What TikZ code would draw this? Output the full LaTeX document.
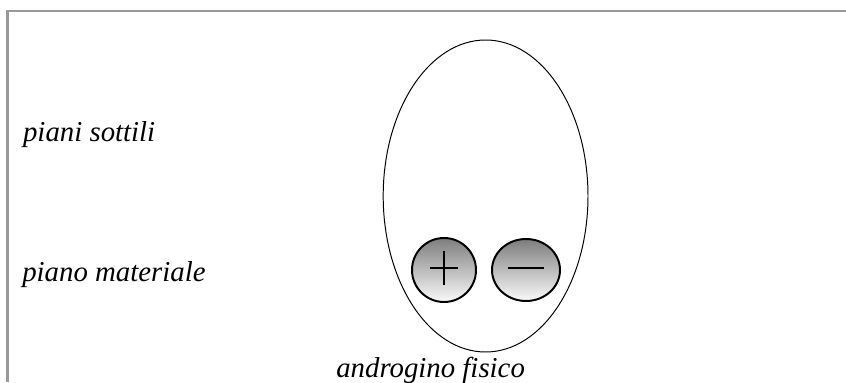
\documentclass[tikz,border=0pt]{standalone}
\usepackage{fontspec}
\setmainfont{Liberation Serif}
\usetikzlibrary{shapes.geometric}

\definecolor{framegray}{RGB}{153,153,153}
\definecolor{chargetop}{RGB}{125,125,125}
\definecolor{chargebot}{RGB}{250,250,250}

\tikzset{
	planelabel/.style={anchor=base west, inner sep=0pt, font=\fontsize{20.5}{24}\selectfont\itshape},
	charge/.style={draw=black, line width=1.4pt, top color=chargetop, bottom color=chargebot, inner sep=0pt},
	sign/.style={line width=1pt}
}

\begin{document}
\begin{tikzpicture}

	\useasboundingbox (0,0) rectangle (21.15,9.55);
	\draw[framegray, line width=2.1pt] (0.19,0) -- (0.19,9.275) -- (21.15,9.275);

	\draw[line width=0.7pt] (12.14,4.65) ellipse (2.56 and 3.9);

	\node[planelabel] (sottili) at (0.57,6.0) {piani sottili};
	\node[planelabel] (materiale) at (0.55,2.5) {piano materiale};
	\node[planelabel] (androgino) at (8.4,0.125) {androgino fisico};

	\node[charge, circle, minimum size=1.6cm] (plus) at (11.1,2.8) {};
	\node[charge, ellipse, minimum width=1.7cm, minimum height=1.55cm] (minus) at (13.15,2.8) {};

	\draw[sign] ([xshift=-0.36cm,yshift=0.05cm]plus.center) -- ([xshift=0.36cm,yshift=0.05cm]plus.center);
	\draw[sign] ([yshift=0.475cm]plus.center) -- ([yshift=-0.375cm]plus.center);
	\draw[sign] ([xshift=-0.44cm,yshift=0.05cm]minus.center) -- ([xshift=0.44cm,yshift=0.05cm]minus.center);

\end{tikzpicture}
\end{document}
